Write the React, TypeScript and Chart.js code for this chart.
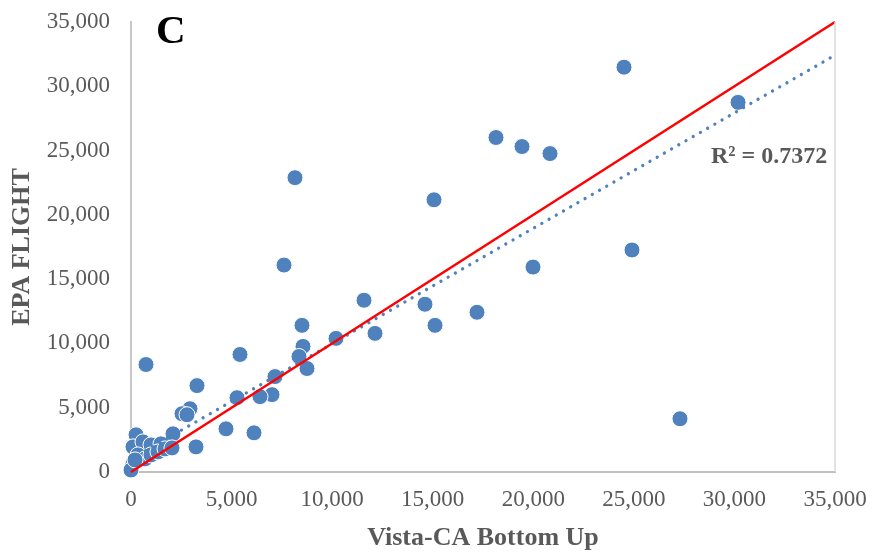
import React, { useEffect, useRef } from "react";
import { Chart, registerables } from "chart.js";

Chart.register(...registerables);

// Vista-CA Bottom Up (x) vs EPA FLIGHT (y)
const vistaX = [
  30180, 24510, 24908, 27294, 18146, 19439, 20831, 19986, 15064, 17202,
  15114, 14616, 11584, 12131, 10192, 8153, 7607, 8501, 8551, 8352,
  8750, 5419, 7159, 7010, 6413, 5270, 3281, 6115, 4723, 3232,
  746, 2933, 2536, 2784, 2088, 249, 99, 597, 994, 1491,
  348, 99, 0, 696, 994, 1342, 1690, 2038, 199,
];
const epaY = [
  28750, 31484, 17266, 4141, 26016, 25313, 24766, 15938, 21172, 12422,
  11406, 13047, 13359, 10781, 10391, 22891, 16094, 11406, 9766, 8984,
  8047, 9141, 7422, 6016, 5859, 5781, 6719, 3047, 3359, 1953,
  8359, 4922, 4531, 4453, 2969, 2891, 1953, 2344, 2109, 2188,
  1328, 625, 156, 1016, 1328, 1563, 1797, 1875, 938,
];

// 1:1 reference line and Excel linear trendline
const oneToOneX = [0, 35000];
const oneToOneY = [0, 35000];
const trendX = [0, 35000];
const trendY = [1004, 32420];

const axisTicks = [0, 5000, 10000, 15000, 20000, 25000, 30000, 35000];
const xTitle = "Vista-CA Bottom Up";
const yTitle = "EPA FLIGHT";
const panelLabel = "C";
const r2Label = "R² = 0.7372";

const BLUE = "#4F81BD";
const GRAY_TEXT = "#595959";
const FONT = "'Liberation Serif', 'Times New Roman', serif";

const fmt = (v: number) => v.toLocaleString("en-US");

export default function App() {
  const ref = useRef<HTMLCanvasElement | null>(null);

  useEffect(() => {
    if (!ref.current) return;
    const annotations = {
      id: "annotations",
      afterDraw(chart: any) {
        const { ctx, chartArea } = chart;
        ctx.save();
        // right border of plot area
        ctx.strokeStyle = "#D9D9D9";
        ctx.lineWidth = 1.5;
        ctx.beginPath();
        ctx.moveTo(chartArea.right, chartArea.top);
        ctx.lineTo(chartArea.right, chartArea.bottom);
        ctx.stroke();
        // panel label
        ctx.fillStyle = "#000000";
        ctx.font = `bold 41px ${FONT}`;
        ctx.textAlign = "left";
        ctx.textBaseline = "alphabetic";
        ctx.fillText(panelLabel, 156, 43);
        // R squared
        ctx.fillStyle = GRAY_TEXT;
        ctx.font = `bold 24px ${FONT}`;
        ctx.fillText(r2Label, 711, 163);
        ctx.restore();
      },
    };

    const chart = new Chart(ref.current, {
      type: "scatter",
      data: {
        datasets: [
          {
            type: "line",
            label: "1:1",
            data: oneToOneX.map((x, i) => ({ x, y: oneToOneY[i] })),
            borderColor: "#FF0000",
            borderWidth: 2.5,
            pointRadius: 0,
            fill: false,
            order: 0,
            clip: false,
          } as any,
          {
            type: "line",
            label: "Trend",
            data: trendX.map((x, i) => ({ x, y: trendY[i] })),
            borderColor: BLUE,
            borderWidth: 3.3,
            borderDash: [0.01, 8.3],
            borderCapStyle: "round",
            pointRadius: 0,
            fill: false,
            order: 1,
            clip: false,
          } as any,
          {
            label: "Data",
            data: vistaX.map((x, i) => ({ x, y: epaY[i] })),
            backgroundColor: BLUE,
            borderColor: "#FFFFFF",
            borderWidth: 1,
            pointRadius: 8,
            order: 2,
            clip: false,
          } as any,
        ],
      },
      options: {
        animation: false,
        responsive: false,
        layout: { padding: { top: 22, right: 41, left: 0, bottom: 0 } },
        plugins: {
          legend: { display: false },
          tooltip: { enabled: false },
        },
        scales: {
          x: {
            type: "linear",
            min: 0,
            max: 35000,
            afterFit: (s: any) => {
              s.height = 82;
              s.paddingLeft = 0;
              s.paddingRight = 0;
            },
            afterBuildTicks: (s: any) => {
              s.ticks = axisTicks.map((v) => ({ value: v }));
            },
            grid: { display: false, drawTicks: false },
            border: { display: true, color: "#BFBFBF", width: 2 },
            ticks: {
              autoSkip: false,
              maxRotation: 0,
              padding: 14,
              color: GRAY_TEXT,
              font: { family: FONT, size: 23 },
              callback: (v: any) => fmt(Number(v)),
            },
            title: {
              display: true,
              text: xTitle,
              color: GRAY_TEXT,
              font: { family: FONT, size: 26, weight: "bold" },
              padding: { top: 0, bottom: 0 },
            },
          },
          y: {
            type: "linear",
            min: 0,
            max: 35000,
            afterFit: (s: any) => {
              s.width = 131;
              s.paddingTop = 0;
              s.paddingBottom = 0;
            },
            afterBuildTicks: (s: any) => {
              s.ticks = axisTicks.map((v) => ({ value: v }));
            },
            grid: { display: false, drawTicks: false },
            border: { display: true, color: "#C8C8C8", width: 2 },
            ticks: {
              autoSkip: false,
              padding: 21,
              color: GRAY_TEXT,
              font: { family: FONT, size: 23 },
              callback: (v: any) => fmt(Number(v)),
            },
            title: {
              display: true,
              text: yTitle,
              color: GRAY_TEXT,
              font: { family: FONT, size: 26, weight: "bold" },
              padding: { top: 7, bottom: 0 },
            },
          },
        },
      },
      plugins: [annotations],
    });
    return () => chart.destroy();
  }, []);

  return (
    <div style={{ position: "absolute", left: 0, top: 0, width: 876, height: 554, background: "#fff" }}>
      <canvas ref={ref} width={876} height={554} style={{ display: "block" }} />
    </div>
  );
}
